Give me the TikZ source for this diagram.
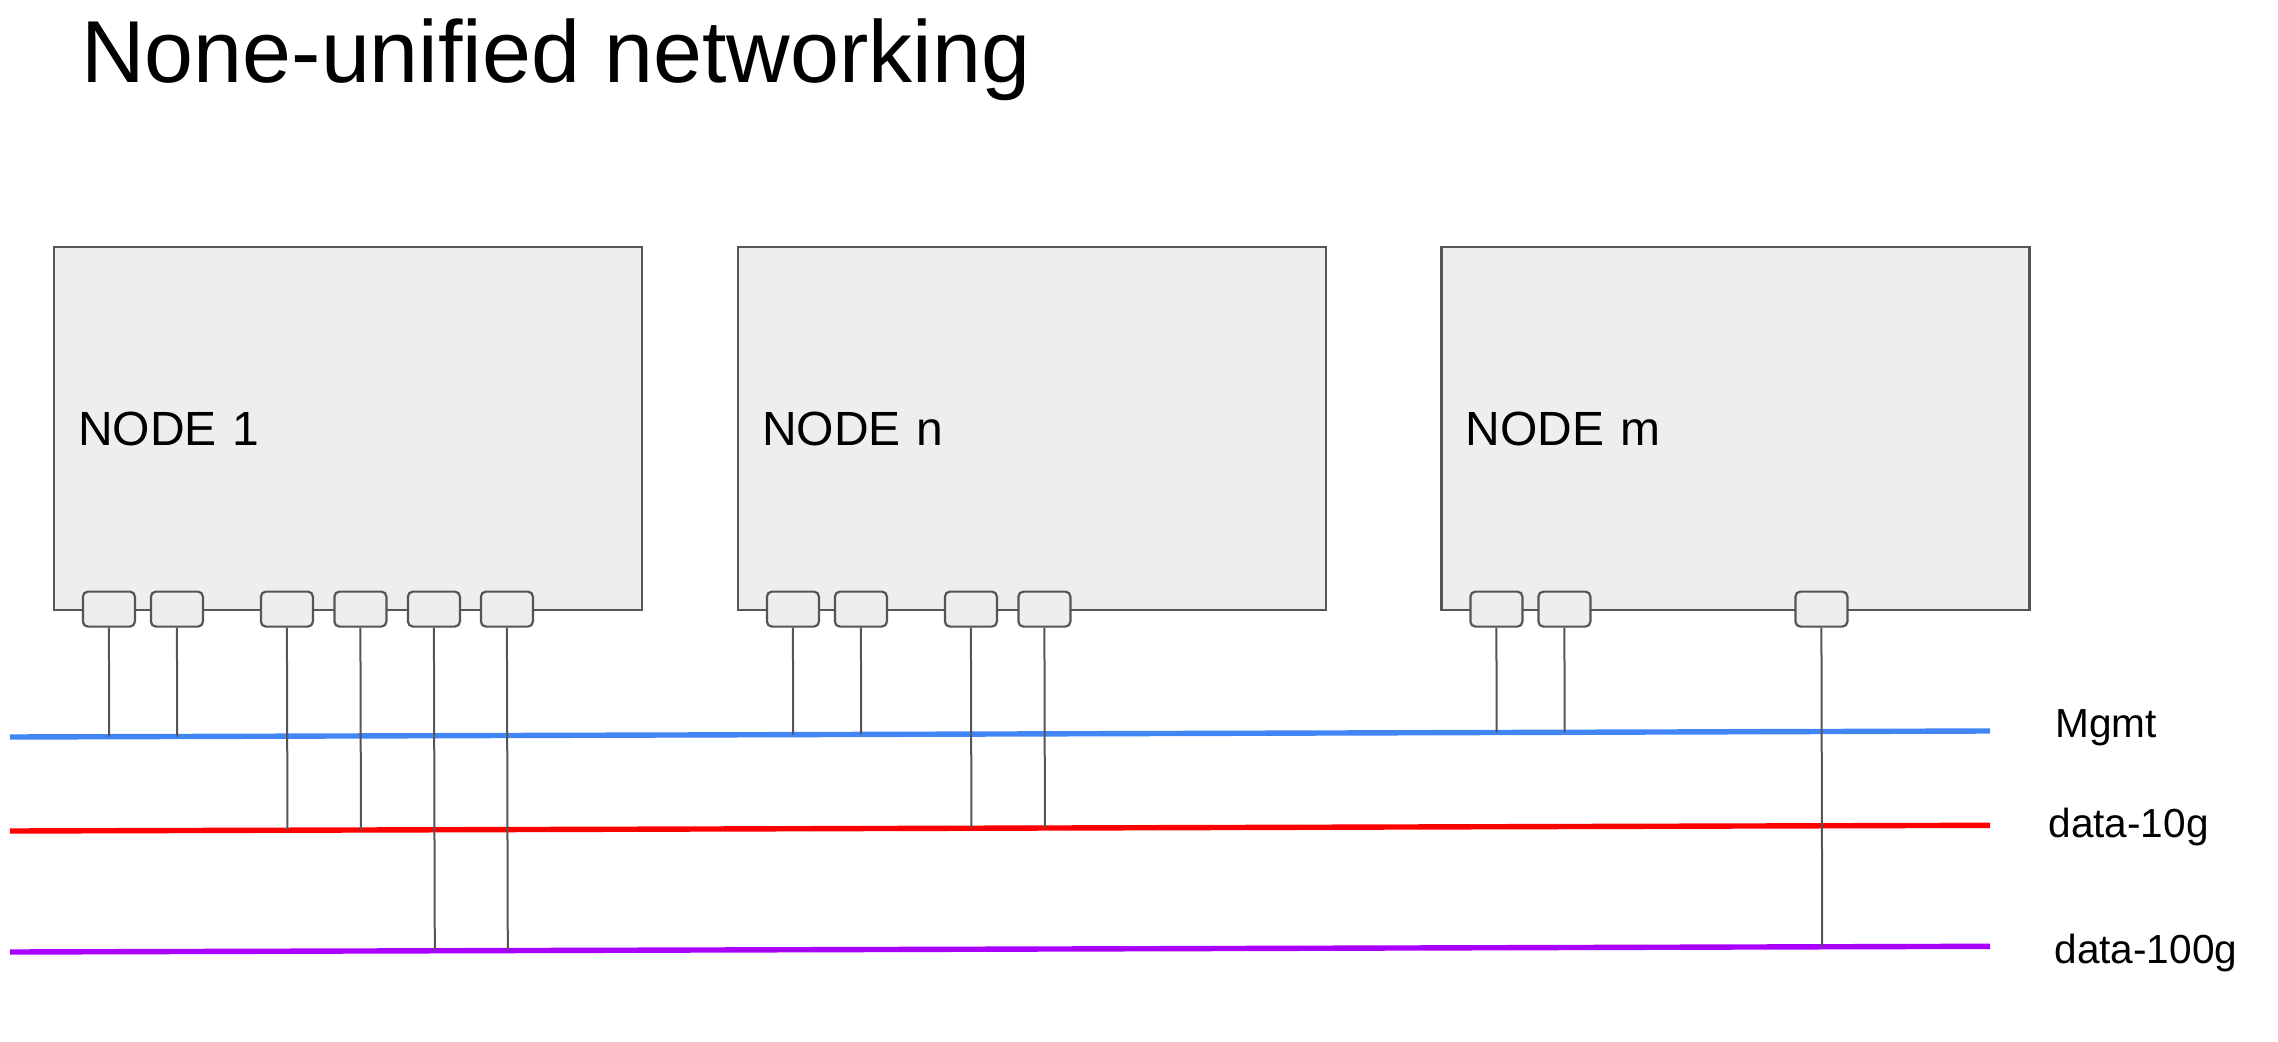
\documentclass[tikz,border=0pt]{standalone}
\usepackage{fontspec}
\setmainfont{Liberation Sans}
\usetikzlibrary{calc}
\definecolor{boxgray}{HTML}{EEEEEE}
\definecolor{linegray}{HTML}{555555}
\definecolor{mgmtblue}{HTML}{4285F4}
\definecolor{datared}{HTML}{FF0000}
\definecolor{datapurple}{HTML}{AA00FF}

\begin{document}
\begin{tikzpicture}[x=0.5pt,y=-0.5pt]
\tikzstyle{rect}=[rectangle, draw=linegray, line width=1.1pt, fill=boxgray, minimum height=181.5pt, text width=270pt, inner xsep=12pt, align=left, font=\fontsize{24}{28}\selectfont]
\tikzstyle{port}=[rectangle, rounded corners=2.5pt, draw=linegray, line width=1.1pt, fill=boxgray, minimum width=26pt, minimum height=17.5pt, inner sep=0pt]
\tikzstyle{bus}=[line width=2.7pt]
\tikzstyle{drop}=[draw=linegray, line width=1pt]
\tikzstyle{buslabel}=[anchor=base west, inner sep=0pt, font=\fontsize{20.3}{24}\selectfont]

  \useasboundingbox (0,0) rectangle (2278,1042);

  \node[anchor=base west, inner sep=0pt, font=\fontsize{44}{50}\selectfont] (title) at (81,83) {None-unified networking};

  \node[rect] (node1) at (348,428.5)    {NODE 1};
  \node[rect] (noden) at (1032,428.5)   {NODE n};
  \node[rect] (nodem) at (1735.5,428.5) {NODE m};

  \foreach \off [count=\i] in {56,124,234,307.5,381,454}
    \node[port] (node1p\i) at ($(node1.south west)+(\off,-2)$) {};
  \foreach \off [count=\i] in {56,124,234,307.5}
    \node[port] (nodenp\i) at ($(noden.south west)+(\off,-2)$) {};
  \foreach \off [count=\i] in {56,124,381}
    \node[port] (nodemp\i) at ($(nodem.south west)+(\off,-2)$) {};

  \coordinate (mgmtW) at (10,737);
  \coordinate (mgmtE) at (1990,731);
  \coordinate (d10W)  at (10,831);
  \coordinate (d10E)  at (1990,825.3);
  \coordinate (d100W) at (10,952);
  \coordinate (d100E) at (1990,946.3);

  \draw[bus, mgmtblue]   (mgmtW) -- (mgmtE);
  \draw[bus, datared]    (d10W)  -- (d10E);
  \draw[bus, datapurple] (d100W) -- (d100E);

  \node[buslabel] (mgmtlbl) at (2055,737) {Mgmt};
  \node[buslabel] (d10lbl)  at (2048,837) {data-10g};
  \node[buslabel] (d100lbl) at (2054,963) {data-100g};

  \foreach \p in {node1p1,node1p2,nodenp1,nodenp2,nodemp1,nodemp2}
    \path (\p.south) edge [drop] ($(mgmtW)!(\p.south)!(mgmtE)$);
  \foreach \p in {node1p3,node1p4,nodenp3,nodenp4}
    \path (\p.south) edge [drop] ($(d10W)!(\p.south)!(d10E)$);
  \foreach \p in {node1p5,node1p6,nodemp3}
    \path (\p.south) edge [drop] ($(d100W)!(\p.south)!(d100E)$);

\end{tikzpicture}
\end{document}
